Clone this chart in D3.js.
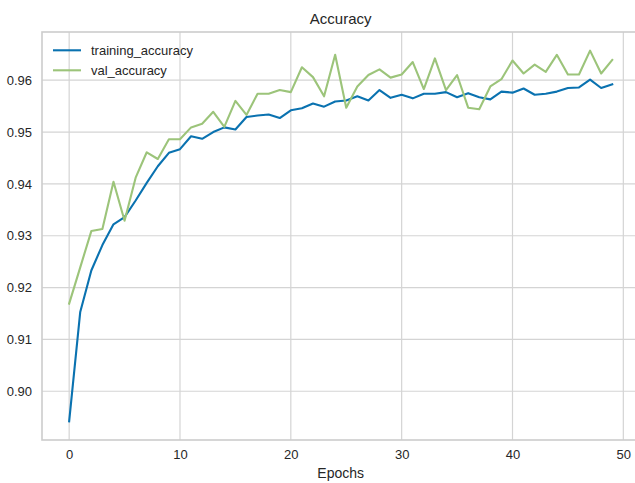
<!DOCTYPE html>
<html>
<head>
<meta charset="utf-8">
<script src="https://cdn.jsdelivr.net/npm/d3@7"></script>
<style>
  body { margin: 0; background: #fff; }
  text { font-family: "Liberation Sans", Arial, sans-serif; fill: #262626; }
</style>
</head>
<body>
<svg id="chart" width="635" height="483"></svg>
<script>
// values
var epochs = d3.range(50);
var trainingAccuracy = [
  0.8942, 0.9153, 0.9233, 0.9282, 0.9322, 0.9336, 0.9368, 0.9402, 0.9434, 0.9460,
  0.9467, 0.9492, 0.9487, 0.9500, 0.9509, 0.9505, 0.9529, 0.9532, 0.9534, 0.9527,
  0.9542, 0.9546, 0.9555, 0.9549, 0.9559, 0.9561, 0.9569, 0.9561, 0.9581, 0.9566,
  0.9572, 0.9565, 0.9574, 0.9574, 0.9577, 0.9567, 0.9575, 0.9567, 0.9563, 0.9578,
  0.9576, 0.9584, 0.9572, 0.9574, 0.9578, 0.9585, 0.9586, 0.9601, 0.9585, 0.9592
];
var valAccuracy = [
  0.9169, 0.9239, 0.9309, 0.9313, 0.9404, 0.9329, 0.9412, 0.9461, 0.9448, 0.9486,
  0.9486, 0.9509, 0.9516, 0.9539, 0.9510, 0.9560, 0.9533, 0.9574, 0.9574, 0.9581,
  0.9577, 0.9625, 0.9606, 0.9569, 0.9649, 0.9547, 0.9588, 0.9610, 0.9621, 0.9605,
  0.9611, 0.9635, 0.9583, 0.9642, 0.9581, 0.9610, 0.9547, 0.9544, 0.9588, 0.9602,
  0.9638, 0.9613, 0.9630, 0.9616, 0.9649, 0.9611, 0.9611, 0.9657, 0.9613, 0.9639
];
var xTicks = [0, 10, 20, 30, 40, 50];
var yTicks = [0.90, 0.91, 0.92, 0.93, 0.94, 0.95, 0.96];

var series = [
  { name: "training_accuracy", values: trainingAccuracy, color: "#0a72b0" },
  { name: "val_accuracy", values: valAccuracy, color: "#9cc47a" }
];

var svg = d3.select("#chart"),
	plotLeft = 42, plotRight = 639.4, plotTop = 32, plotBottom = 440;

var x = d3.scaleLinear().domain([-2.45, 51.45]).range([plotLeft, plotRight]);
var y = d3.scaleLinear().domain([0.8906, 0.9693]).range([plotBottom, plotTop]);

// grid
svg.append("g")
	.selectAll("line")
	.data(yTicks)
	.enter()
	.append("line")
	.attr("x1", plotLeft).attr("x2", plotRight)
	.attr("y1", function (d) { return y(d); })
	.attr("y2", function (d) { return y(d); })
	.attr("stroke", "#d4d4d4").attr("stroke-width", 1.2);

svg.append("g")
	.selectAll("line")
	.data(xTicks)
	.enter()
	.append("line")
	.attr("y1", plotTop).attr("y2", plotBottom)
	.attr("x1", function (d) { return x(d); })
	.attr("x2", function (d) { return x(d); })
	.attr("stroke", "#d4d4d4").attr("stroke-width", 1.2);

// axes (labels only, no tick marks)
var xAxis = svg.append("g")
	.attr("transform", "translate(0," + plotBottom + ")")
	.call(d3.axisBottom(x).tickValues(xTicks).tickSize(0).tickPadding(10));
var yAxis = svg.append("g")
	.attr("transform", "translate(" + plotLeft + ",0)")
	.call(d3.axisLeft(y).tickValues(yTicks).tickSize(0).tickPadding(10).tickFormat(d3.format(".2f")));

[xAxis, yAxis].forEach(function (g) {
	g.select(".domain").remove();
	g.selectAll("text")
		.attr("font-size", 13)
		.attr("font-family", "Liberation Sans, Arial, sans-serif")
		.attr("fill", "#262626");
});

// frame
svg.append("rect")
	.attr("x", plotLeft).attr("y", plotTop)
	.attr("width", plotRight - plotLeft).attr("height", plotBottom - plotTop)
	.attr("fill", "none")
	.attr("stroke", "#cccccc")
	.attr("stroke-width", 1.6);

// lines
var line = d3.line()
	.x(function (d, i) { return x(epochs[i]); })
	.y(function (d) { return y(d); });

svg.append("g")
	.selectAll("path")
	.data(series)
	.enter()
	.append("path")
	.attr("d", function (d) { return line(d.values); })
	.attr("fill", "none")
	.attr("stroke", function (d) { return d.color; })
	.attr("stroke-width", 2.1)
	.attr("stroke-linejoin", "round")
	.attr("stroke-linecap", "square");

// legend
var legend = svg.append("g")
	.selectAll("g")
	.data(series)
	.enter()
	.append("g")
	.attr("transform", function (d, i) { return "translate(53," + (50.3 + i * 20) + ")"; });

legend.append("line")
	.attr("x1", 0).attr("x2", 28)
	.attr("stroke", function (d) { return d.color; })
	.attr("stroke-width", 2.1);

legend.append("text")
	.attr("x", 38)
	.attr("dy", "0.35em")
	.attr("font-size", 13)
	.text(function (d) { return d.name; });

// title and x label
svg.append("text")
	.attr("x", (plotLeft + plotRight) / 2)
	.attr("y", 24)
	.attr("text-anchor", "middle")
	.attr("font-size", 15)
	.text("Accuracy");

svg.append("text")
	.attr("x", (plotLeft + plotRight) / 2)
	.attr("y", 478)
	.attr("text-anchor", "middle")
	.attr("font-size", 14)
	.text("Epochs");
</script>
</body>
</html>
